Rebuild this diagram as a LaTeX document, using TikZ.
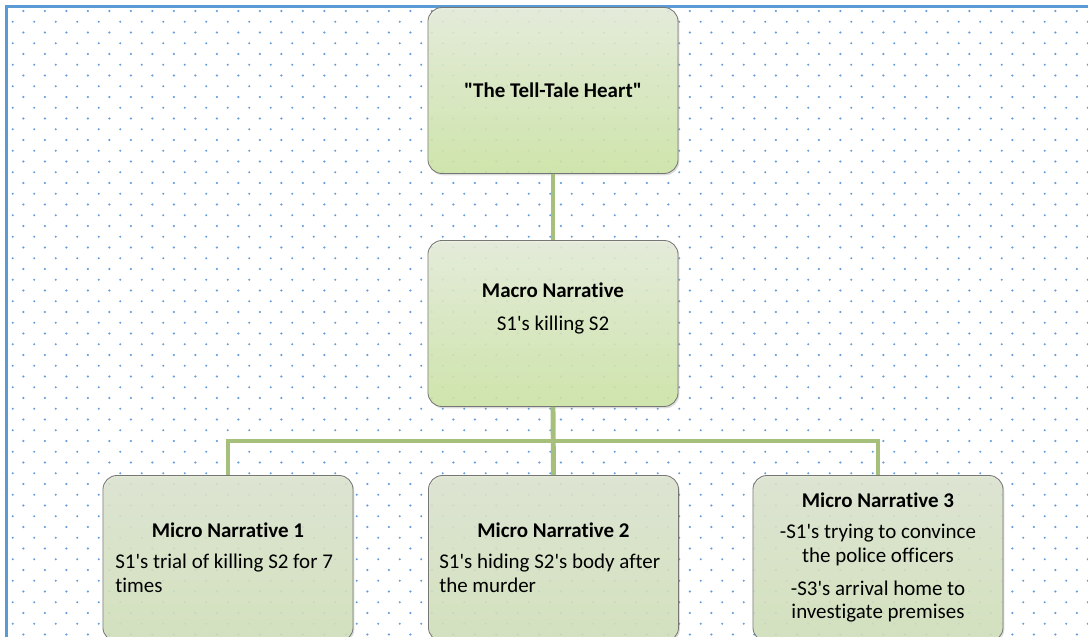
\documentclass[tikz,border=0pt]{standalone}
\usepackage{fontspec}
\setmainfont{Carlito}[Ligatures={TeXOff,NoCommon}]
\usetikzlibrary{shadows}

\definecolor{dotblue}{RGB}{104,158,220}
\definecolor{frameblue}{RGB}{91,155,213}
\definecolor{linkgreen}{RGB}{166,192,124}
\definecolor{boxedge}{RGB}{118,118,118}
\definecolor{uppertop}{RGB}{230,238,218}
\definecolor{upperbot}{RGB}{205,231,164}
\definecolor{lowertop}{RGB}{222,230,209}
\definecolor{lowerbot}{RGB}{211,227,186}

\tikzset{
  smartbox/.style={draw=boxedge, line width=0.6pt, rounded corners=10pt,
    minimum width=6.25cm, minimum height=4.15cm, inner sep=0pt,
    fill opacity=0.85,
    drop shadow={opacity=0.28, shadow xshift=0.9pt, shadow yshift=-1.3pt}},
  upperbox/.style={smartbox, top color=uppertop, bottom color=upperbot},
  lowerbox/.style={smartbox, top color=lowertop, bottom color=lowerbot},
  link/.style={draw=linkgreen, line width=3.5pt},
  headtext/.style={inner sep=0pt, font=\fontsize{14.9}{17}\selectfont\bfseries},
  bodytext/.style={inner sep=0pt, font=\fontsize{14.9}{17}\selectfont}
}

\begin{document}
\begin{tikzpicture}[x=0.025cm, y=-0.025cm]
			\useasboundingbox (0,0) rectangle (1088,637);
			\clip (0,0) rectangle (1088,637);

			%%draw the dotted paper
			\foreach \r in {0,...,58}{
				\foreach \c in {0,...,50}{
					\pgfmathsetmacro{\dotx}{12.7+21.5*\c+10.65*(1-mod(\r,2))}
					\pgfmathsetmacro{\doty}{11+10.75*\r}
					\fill[dotblue] (\dotx,\doty) circle[radius=0.85pt];
				}
			}
			\draw[frameblue, line width=1.8pt] (6.5,700) -- (6.5,6.5) -- (1100,6.5);

			%%draw the boxes
			\node[upperbox] (story) at (553,90.5) {};
			\node[upperbox] (macro) at (553,323.5) {};
			\node[lowerbox] (micro1) at (228,558.5) {};
			\node[lowerbox] (micro2) at (553.5,558.5) {};
			\node[lowerbox] (micro3) at (878,558.5) {};

			%%draw the links
			\coordinate (bus) at (553,441);
			\draw[link] (story.south) -- (macro.north);
			\draw[link] (macro.south) -- (micro2.north);
			\draw[link] (micro1.north) |- (bus) -| (micro3.north);

			%%write the texts
			\node[headtext] (storytitle) at (553,90) {"The Tell-Tale Heart"};

			\node[headtext] (macrotitle) at (553,290) {Macro Narrative};
			\node[bodytext] (macrobody) at (553,325) {S1's killing S2};

			\node[headtext] (micro1title) at (228,530) {Micro Narrative 1};
			\node[bodytext, align=left, anchor=west] (micro1body) at (115,573.5)
				{S1's trial of killing S2 for 7\\times};

			\node[headtext] (micro2title) at (553.5,530) {Micro Narrative 2};
			\node[bodytext, align=left, anchor=west] (micro2body) at (439,573.5)
				{S1's hiding S2's body after\\the murder};

			\node[headtext] (micro3title) at (878,500) {Micro Narrative 3};
			\node[bodytext, align=center] (micro3bodya) at (878,545)
				{-S1's trying to convince\\the police officers};
			\node[bodytext, align=center] (micro3bodyb) at (878,601.5)
				{-S3's arrival home to\\investigate premises};
\end{tikzpicture}
\end{document}
